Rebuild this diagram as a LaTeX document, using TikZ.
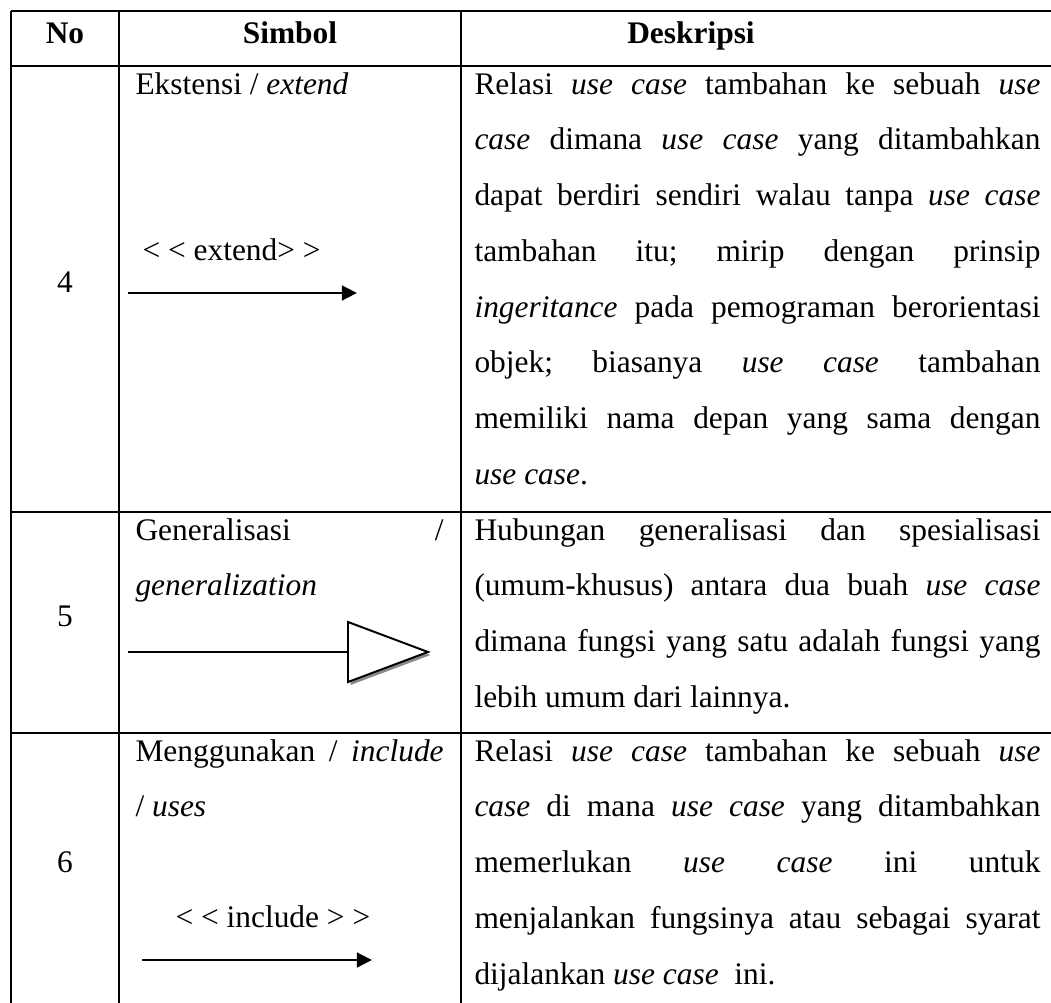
\documentclass[tikz,border=0pt]{standalone}
\usepackage{fontspec}
\setmainfont{Liberation Serif}
\usetikzlibrary{arrows.meta}
\definecolor{shd}{HTML}{8A8A8A}
\tolerance=10000
\hbadness=10000
\hyphenpenalty=10000
\exhyphenpenalty=10000
\frenchspacing

\begin{document}
\begin{tikzpicture}[x=0.382pt, y=-0.382pt, font=\fontsize{12}{21.3}\selectfont,
  rule/.style={line width=0.65pt},
  head/.style={anchor=base, inner sep=0pt, font=\fontsize{12}{21.3}\selectfont\bfseries},
  cell/.style={anchor=base west, inner sep=0pt, align=justify},
  rel/.style={line width=1.1pt, -{Triangle[length=5.8pt, width=5.6pt]}}]
\useasboundingbox (0,0) rectangle (1051,1003);
% table rules
\foreach \y in {11,66,512,733} \draw[rule] (11,\y) -- (1051,\y);
\foreach \x in {11,119,461} \draw[rule] (\x,11) -- (\x,1003);
% header
\node[head] (hNo) at (65,43) {No};
\node[head] (hSim) at (290,43) {Simbol};
\node[head] (hDes) at (691,43) {Deskripsi};
% row numbers
\foreach \n/\y in {4/292, 5/626, 6/872} \node[anchor=base, inner sep=0pt] (n\n) at (65,\y) {\n};
% row 4: extend
\node[cell] (s4) at (135,94) {Ekstensi / \textit{extend}};
\node[cell] (lblext) at (142,260) {< < extend> >};
\coordinate (ext-a) at (128,293);
\coordinate (ext-b) at (357,293);
\draw[rel] (ext-a) -- (ext-b);
\node[cell, text width=216.2pt] (d4) at (474,94) {Relasi \textit{use case} tambahan ke sebuah \textit{use}\linebreak
  \textit{case} dimana \textit{use case} yang ditambahkan\linebreak
  dapat berdiri sendiri walau tanpa \textit{use case}\linebreak
  tambahan itu; mirip dengan prinsip\linebreak
  \textit{ingeritance} pada pemograman berorientasi\linebreak
  objek; biasanya \textit{use case} tambahan\linebreak
  memiliki nama depan yang sama dengan\linebreak
  \textit{use case}.};
% row 5: generalization
\node[cell, text width=117.7pt] (s5) at (135,540) {Generalisasi /\linebreak \textit{generalization}};
\coordinate (gen-a) at (128,652);
\coordinate (gen-b) at (348,652);
\draw[line width=0.6pt] (gen-a) -- (gen-b);
\fill[shd] ([shift={(2.5,3)}]gen-b) ++(0,-30) -- ++(80,30) -- ++(-80,30) -- cycle;
\filldraw[fill=white, line width=0.75pt] (gen-b) ++(0,-30) -- ++(80,30) -- ++(-80,30) -- cycle;
\node[cell, text width=216.2pt] (d5) at (474,540) {Hubungan generalisasi dan spesialisasi\linebreak
  (umum-khusus) antara dua buah \textit{use case}\linebreak
  dimana fungsi yang satu adalah fungsi yang\linebreak
  lebih umum dari lainnya.};
% row 6: include
\node[cell, text width=117.7pt] (s6) at (135,761) {Menggunakan / \textit{include}\linebreak / \textit{uses}};
\node[cell] (lblinc) at (175,927) {< < include > >};
\coordinate (inc-a) at (142,960);
\coordinate (inc-b) at (372,960);
\draw[rel] (inc-a) -- (inc-b);
\node[cell, text width=216.2pt] (d6) at (474,761) {Relasi \textit{use case} tambahan ke sebuah \textit{use}\linebreak
  \textit{case} di mana \textit{use case} yang ditambahkan\linebreak
  memerlukan \textit{use case} ini untuk\linebreak
  menjalankan fungsinya atau sebagai syarat\linebreak
  dijalankan \textit{use case}~ ini.};
\end{tikzpicture}
\end{document}
